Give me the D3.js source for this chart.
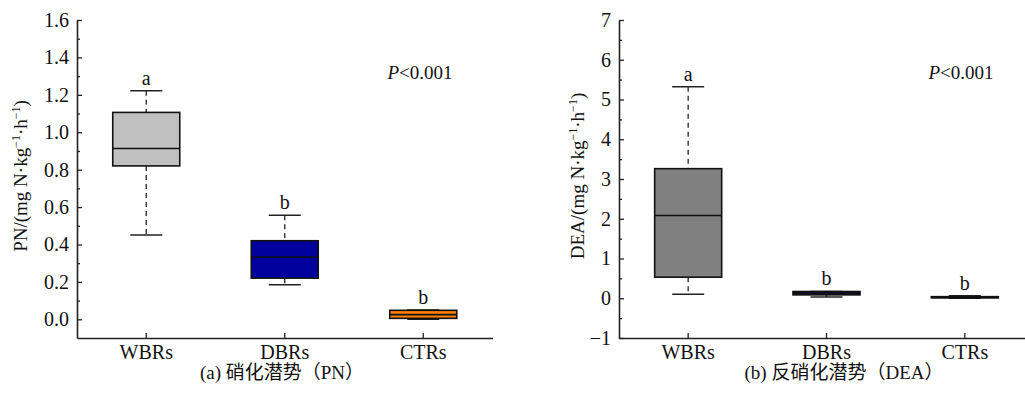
<!DOCTYPE html>
<html>
<head>
<meta charset="utf-8">
<script src="https://cdn.jsdelivr.net/npm/d3@7"></script>
<style>
  body { margin: 0; background: #fff; }
  text { font-family: "Liberation Serif", "Noto Sans CJK SC", serif; fill: #111; }
</style>
</head>
<body>
<div id="chart"></div>
<script>
// categories shared by both panels
var groups = ["WBRs", "DBRs", "CTRs"]
var letters = ["a", "b", "b"]

// PN box stats: [min, q1, median, q3, max]
var pnMin = [0.45, 0.185, 0.0]
var pnQ1 = [0.82, 0.22, 0.005]
var pnMed = [0.913, 0.333, 0.025]
var pnQ3 = [1.106, 0.42, 0.048]
var pnMax = [1.222, 0.556, 0.05]
var pnColors = ["#c0c0c0", "#00009c", "#ff7f00"]
var pnTicks = [0, 0.2, 0.4, 0.6, 0.8, 1.0, 1.2, 1.4, 1.6]

// DEA box stats
var deaMin = [0.1, 0.03, 0.0]
var deaQ1 = [0.53, 0.085, 0.01]
var deaMed = [2.08, 0.13, 0.02]
var deaQ3 = [3.26, 0.17, 0.04]
var deaMax = [5.32, 0.17, 0.06]
var deaColors = ["#808080", "#00009c", "#ff7f00"]
var deaTicks = [-1, 0, 1, 2, 3, 4, 5, 6, 7]

var width = 1025, height = 394

var svg = d3.select("#chart").append("svg")
    .attr("width", width)
    .attr("height", height)

function panel(opt) {
    var x = d3.scaleBand().domain(groups).range(opt.xr).padding(0)
    var y = d3.scaleLinear().domain(opt.yd).range([338, 20])
    var g = svg.append("g")

    // minor ticks
    g.append("g")
        .attr("transform", "translate(" + opt.xr[0] + ",0)")
        .call(d3.axisLeft(y).tickValues(opt.minor).tickSize(-3).tickFormat(""))
        .call(function (a) { a.select(".domain").remove() })
        .selectAll("line").attr("stroke", "#222").attr("stroke-width", 1.3)

    // y axis
    var ya = g.append("g")
        .attr("transform", "translate(" + opt.xr[0] + ",0)")
        .call(d3.axisLeft(y).tickValues(opt.ticks).tickSize(-5).tickSizeOuter(0)
            .tickPadding(8).tickFormat(opt.fmt))
    ya.selectAll("text").style("font-size", "20px")

    // x axis
    var xa = g.append("g")
        .attr("transform", "translate(0,338)")
        .call(d3.axisBottom(x).tickSize(-5).tickSizeOuter(0).tickPadding(7))
    xa.selectAll("text").style("font-size", "20px")

    g.selectAll(".domain").attr("stroke", "#222").attr("stroke-width", 1.6)
    g.selectAll(".tick line").attr("stroke", "#222").attr("stroke-width", 1.3)

    var boxW = 67, capW = 32
    var idx = d3.range(groups.length)
    var cx = function (i) { return x(groups[i]) + x.bandwidth() / 2 }

    var b = g.selectAll(".box").data(idx).enter().append("g")

    // dashed whiskers
    b.append("line")
        .attr("x1", cx).attr("x2", cx)
        .attr("y1", function (i) { return y(opt.max[i]) })
        .attr("y2", function (i) { return y(opt.q3[i]) })
        .attr("stroke", "#222").attr("stroke-width", 1.3).attr("stroke-dasharray", "5,4")
    b.append("line")
        .attr("x1", cx).attr("x2", cx)
        .attr("y1", function (i) { return y(opt.q1[i]) })
        .attr("y2", function (i) { return y(opt.min[i]) })
        .attr("stroke", "#222").attr("stroke-width", 1.3).attr("stroke-dasharray", "5,4")

    // caps
    b.append("line")
        .attr("x1", function (i) { return cx(i) - capW / 2 })
        .attr("x2", function (i) { return cx(i) + capW / 2 })
        .attr("y1", function (i) { return y(opt.max[i]) })
        .attr("y2", function (i) { return y(opt.max[i]) })
        .attr("stroke", "#222").attr("stroke-width", 1.5)
    b.append("line")
        .attr("x1", function (i) { return cx(i) - capW / 2 })
        .attr("x2", function (i) { return cx(i) + capW / 2 })
        .attr("y1", function (i) { return y(opt.min[i]) })
        .attr("y2", function (i) { return y(opt.min[i]) })
        .attr("stroke", "#222").attr("stroke-width", 1.5)

    // boxes
    b.append("rect")
        .attr("x", function (i) { return cx(i) - boxW / 2 })
        .attr("width", boxW)
        .attr("y", function (i) { return y(opt.q3[i]) })
        .attr("height", function (i) { return Math.max(1, y(opt.q1[i]) - y(opt.q3[i])) })
        .attr("fill", function (i) { return opt.colors[i] })
        .attr("stroke", "#111").attr("stroke-width", 1.6)

    // medians
    b.append("line")
        .attr("x1", function (i) { return cx(i) - boxW / 2 })
        .attr("x2", function (i) { return cx(i) + boxW / 2 })
        .attr("y1", function (i) { return y(opt.med[i]) })
        .attr("y2", function (i) { return y(opt.med[i]) })
        .attr("stroke", "#111").attr("stroke-width", 1.6)

    // significance letters
    b.append("text")
        .attr("x", cx)
        .attr("y", function (i) { return y(opt.max[i]) - 6 })
        .attr("text-anchor", "middle")
        .style("font-size", "20px")
        .text(function (i) { return letters[i] })

    // P value
    var p = g.append("text")
        .attr("x", opt.px).attr("y", 79)
        .attr("text-anchor", "middle")
        .style("font-size", "19px")
    p.append("tspan").style("font-style", "italic").text("P")
    p.append("tspan").text("<0.001")

    // y label
    g.append("text")
        .attr("transform", "translate(" + opt.lx + ",176) rotate(-90)")
        .attr("text-anchor", "middle")
        .attr("dy", "0.35em")
        .style("font-size", "19px")
        .html(opt.label + "/(mg N·kg<tspan dy='-7' font-size='12'>−1</tspan><tspan dy='7'>·h</tspan><tspan dy='-7' font-size='12'>−1</tspan><tspan dy='7'>)</tspan>")

    // caption
    g.append("text")
        .attr("x", opt.capx).attr("y", 379)
        .attr("text-anchor", "middle")
        .style("font-size", "19px")
        .text(opt.caption)
}

panel({
    xr: [77, 492.5], yd: [-0.1, 1.6],
    ticks: pnTicks, minor: d3.range(0.1, 1.6, 0.2),
    fmt: d3.format(".1f"),
    min: pnMin, q1: pnQ1, med: pnMed, q3: pnQ3, max: pnMax, colors: pnColors,
    px: 420, lx: 20, label: "PN", capx: 282,
    caption: "(a) 硝化潜势（PN）"
})

panel({
    xr: [619, 1034], yd: [-1, 7],
    ticks: deaTicks, minor: d3.range(-0.5, 7, 1),
    fmt: d3.format("d"),
    min: deaMin, q1: deaQ1, med: deaMed, q3: deaQ3, max: deaMax, colors: deaColors,
    px: 961, lx: 577, label: "DEA", capx: 844,
    caption: "(b) 反硝化潜势（DEA）"
})
</script>
</body>
</html>
